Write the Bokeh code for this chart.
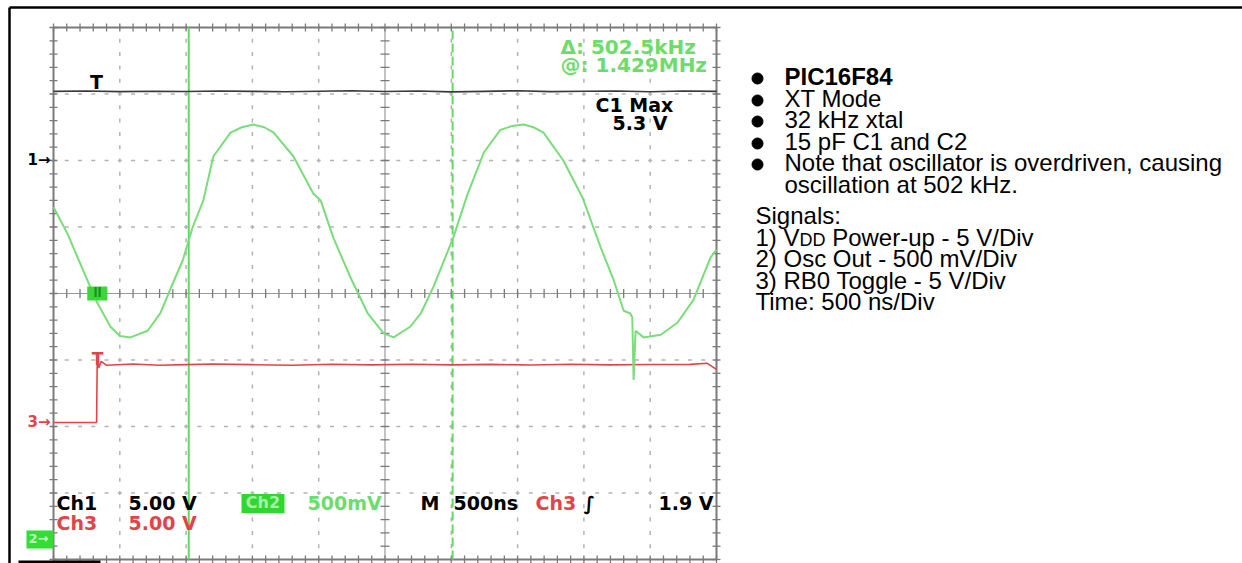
import math
from bokeh.plotting import figure
from bokeh.models import Range1d, Label
from bokeh.embed import file_html
from bokeh.resources import INLINE

time_per_div_us = 0.5          # 500 ns/div
ch1_volts_per_div = 5.0
ch2_volts_per_div = 0.5
ch3_volts_per_div = 5.0
ch1_ground_div = 6.0           # "1->" marker
ch2_ground_div = 0.30          # "2->" marker
ch3_ground_div = 2.06          # "3->" marker

# Ch1: VDD (black)
ch1_t_us = [0.0, 0.25, 0.5, 0.75, 1.0, 1.25, 1.5, 1.75, 2.0, 2.25, 2.5,
            2.75, 3.0, 3.25, 3.5, 3.75, 4.0, 4.25, 4.5, 4.75, 5.0]
ch1_v = [5.20, 5.22, 5.18, 5.21, 5.19, 5.23, 5.20, 5.17, 5.21, 5.24, 5.19,
         5.22, 5.16, 5.20, 5.25, 5.18, 5.21, 5.23, 5.17, 5.22, 5.20]

# Ch2: oscillator output (green)
ch2_t_us = [0.00, 0.105, 0.255, 0.33, 0.43, 0.50, 0.58, 0.71, 0.805, 0.88,
            0.975, 1.05, 1.13, 1.205, 1.335, 1.42, 1.51, 1.59, 1.66, 1.81,
            1.96, 2.015, 2.11, 2.24, 2.37, 2.49, 2.565, 2.69, 2.77, 2.865,
            3.015, 3.12, 3.245, 3.37, 3.46, 3.545, 3.62, 3.695, 3.845, 3.99,
            4.125, 4.225, 4.30, 4.35, 4.365, 4.375, 4.39, 4.45, 4.58, 4.705,
            4.825, 4.955, 5.00]
ch2_v = [2.50, 2.30, 1.95, 1.78, 1.60, 1.53, 1.52, 1.57, 1.70, 1.88,
         2.10, 2.35, 2.55, 2.88, 3.06, 3.10, 3.12, 3.10, 3.06, 2.88,
         2.60, 2.55, 2.27, 1.97, 1.70, 1.55, 1.52, 1.60, 1.70, 1.90,
         2.27, 2.59, 2.91, 3.08, 3.11, 3.12, 3.10, 3.06, 2.85, 2.57,
         2.20, 1.95, 1.72, 1.70, 1.67, 1.20, 1.57, 1.52, 1.54, 1.63,
         1.80, 2.12, 2.18]

# Ch3: RB0 toggle (red)
ch3_t_us = [0.0, 0.30, 0.325, 0.33, 0.34, 0.36, 0.40, 0.6, 0.8, 1.0, 1.2,
            1.5, 1.8, 2.1, 2.4, 2.7, 3.0, 3.3, 3.6, 3.9, 4.2, 4.5, 4.8,
            4.93, 5.0]
ch3_v = [0.0, 0.0, 0.0, 4.9, 4.1, 4.6, 4.3, 4.4, 4.3, 4.35, 4.4,
         4.35, 4.3, 4.38, 4.33, 4.38, 4.33, 4.37, 4.32, 4.38, 4.33, 4.36, 4.37,
         4.45, 4.0]

trigger_t_us = 0.33
cursor_t_us = [1.02, 3.01]     # solid / dashed cursor (delta = 502.5 kHz)

bullet_items = ["PIC16F84", "XT Mode", "32 kHz xtal", "15 pF C1 and C2",
                "Note that oscillator is overdriven, causing"]
bullet_cont = "oscillation at 502 kHz."
signal_lines = ["Signals:", None, "2) Osc Out - 500 mV/Div",
                "3) RB0 Toggle - 5 V/Div", "Time: 500 ns/Div"]

# ---------------- layout ----------------
W, H = 1242, 563
GX0, GY0 = 53.0, 559.0      # pixel position of the screen's lower-left corner
DX, DY = 66.3, 66.5         # pixels per division


def X(px):
    return (px - GX0) / DX


def Y(py):
    return (GY0 - py) / DY


p = figure(width=W, height=H, output_backend="svg", toolbar_location=None,
           x_range=Range1d(X(0), X(W)), y_range=Range1d(Y(H), Y(0)),
           x_axis_type=None, y_axis_type=None, min_border=0)
p.outline_line_color = None
p.background_fill_color = "white"
p.border_fill_color = "white"

# outer page border (top and left)
p.line([X(9), X(W)], [Y(7), Y(7)], line_color="black", line_width=2.5)
p.line([X(9), X(9)], [Y(7), Y(H)], line_color="black", line_width=2.5)

# ---------------- graticule ----------------
GRID = "#b3b3b3"
EDGE = "#7a7a7a"
hx, hy = [], []
for j in [1, 2, 3, 5, 6, 7]:
    for k in range(51):
        hx.append(k * 0.2); hy.append(j)
p.scatter(hx, hy, marker="dash", size=4, line_color=GRID, line_width=1.5)
vx, vy = [], []
for i in [1, 2, 3, 4, 6, 7, 8, 9]:
    for k in range(41):
        vx.append(i); vy.append(k * 0.2)
p.scatter(vx, vy, marker="dash", angle=math.pi / 2, size=4, line_color=GRID, line_width=1.5)

p.line([0, 10], [4, 4], line_color="#9a9a9a", line_width=1.2)
p.line([5, 5], [0, 8], line_color="#9a9a9a", line_width=1.2)
p.scatter([k * 0.2 for k in range(51)], [4] * 51, marker="dash", angle=math.pi / 2,
          size=9, line_color=EDGE, line_width=1.3)
p.scatter([5] * 41, [k * 0.2 for k in range(41)], marker="dash",
          size=9, line_color=EDGE, line_width=1.3)

p.scatter([k * 0.2 for k in range(51)] * 2, [0] * 51 + [8] * 51, marker="dash",
          angle=math.pi / 2, size=8, line_color=EDGE, line_width=1.3)
p.scatter([0] * 41 + [10] * 41, [k * 0.2 for k in range(41)] * 2, marker="dash",
          size=8, line_color=EDGE, line_width=1.3)
p.quad(left=[0], right=[10], bottom=[0], top=[8], fill_color=None,
       line_color=EDGE, line_width=2)

p.line([X(18), X(100)], [Y(561.5), Y(561.5)], line_color="black", line_width=3)

# ---------------- cursors ----------------
CUR = "#5fdc5f"
p.line([cursor_t_us[0] / time_per_div_us] * 2, [0, 8], line_color=CUR, line_width=2)
p.line([cursor_t_us[1] / time_per_div_us] * 2, [0, 8], line_color=CUR, line_width=2,
       line_dash="9 4")

# ---------------- traces ----------------
p.line([t / time_per_div_us for t in ch3_t_us],
       [ch3_ground_div + v / ch3_volts_per_div for v in ch3_v],
       line_color="#e0454a", line_width=1.6)
p.line([t / time_per_div_us for t in ch1_t_us],
       [ch1_ground_div + v / ch1_volts_per_div for v in ch1_v],
       line_color="#3a3a3a", line_width=1.6)
p.line([t / time_per_div_us for t in ch2_t_us],
       [ch2_ground_div + v / ch2_volts_per_div for v in ch2_v],
       line_color="#7bdc7b", line_width=2)

p.rect([trigger_t_us / time_per_div_us], [4], width=20, height=14,
       width_units="screen", height_units="screen", fill_color="#3ad63a", line_color=None)

SCOPE_FONT = "DejaVu Sans"


def lab(px, pc, text, color="black", size=19, align="left", font=SCOPE_FONT,
        style="bold"):
    """px = left (or centre) pixel, pc = pixel row of the visual centre of caps."""
    p.add_layout(Label(x=X(px), y=Y(pc - 1), text=text, text_color=color,
                       text_font=font, text_font_size=f"{size}px",
                       text_font_style=style, text_align=align,
                       text_baseline="alphabetic"))


lab(97, 293, "ll", color="#1c8f1c", size=12, align="center")

lab(96, 82, "T", size=19, align="center")
lab(97, 359, "T", color="#e0454a", size=17, align="center")

lab(27, 160, "1\u2192", size=15)
lab(27, 422, "3\u2192", color="#e0454a", size=15)
p.rect([X(39.5)], [Y(539)], width=27, height=18, width_units="screen",
       height_units="screen", fill_color="#33dd33", line_color=None)
lab(28, 539, "2\u2192", color="#c4f7c4", size=13)

GREEN_TXT = "#6ddc6d"
lab(560, 47.5, "\u0394: 502.5kHz", color=GREEN_TXT, size=20)
lab(560, 65, "@: 1.429MHz", color=GREEN_TXT, size=20)
lab(595, 105, "C1 Max", size=19)
lab(612, 123, "5.3 V", size=19)

lab(56, 503, "Ch1")
lab(128, 503, "5.00 V")
p.rect([X(262.5)], [Y(503)], width=43, height=19, width_units="screen",
       height_units="screen", fill_color="#2fd82f", line_color=None)
lab(262.5, 503, "Ch2", color="#a8f0a8", size=16, align="center")
lab(307, 503, "500mV", color=GREEN_TXT)
lab(420, 503, "M")
lab(453, 503, "500ns")
lab(535, 503, "Ch3", color="#e0454a")
lab(583, 503, "\u222b")
lab(658, 503, "1.9 V")
lab(56, 523, "Ch3", color="#e0454a")
lab(128, 523, "5.00 V", color="#e0454a")

# ---------------- right-hand notes ----------------
TXT_FONT = "Liberation Sans"
TS = 24
bullet_c = [77, 99, 120, 142, 163]
p.scatter([X(757)] * len(bullet_items), [Y(c + 1) for c in bullet_c],
          marker="circle", size=11, fill_color="black", line_color="black")
for i, (txt, c) in enumerate(zip(bullet_items, bullet_c)):
    lab(784, c, txt, size=TS, font=TXT_FONT, style="bold" if i == 0 else "normal")
lab(784, 185, bullet_cont, size=TS, font=TXT_FONT, style="normal")

sig_c = [216, 238, 259, 281, 302]
lab(755, sig_c[0], signal_lines[0], size=TS, font=TXT_FONT, style="normal")
small = 18
w1 = (556 + 333 + 278 + 667) / 1000 * TS
w2 = 2 * 722 / 1000 * small
wsp = 278 / 1000 * TS
lab(755, sig_c[1], "1) V", size=TS, font=TXT_FONT, style="normal")
lab(755 + w1, sig_c[1] + 2.5, "DD", size=small, font=TXT_FONT, style="normal")
lab(755 + w1 + w2 + wsp, sig_c[1], "Power-up - 5 V/Div", size=TS, font=TXT_FONT,
    style="normal")
for txt, c in zip(signal_lines[2:], sig_c[2:]):
    lab(755, c, txt, size=TS, font=TXT_FONT, style="normal")

open("out.html", "w").write(file_html(p, INLINE))
